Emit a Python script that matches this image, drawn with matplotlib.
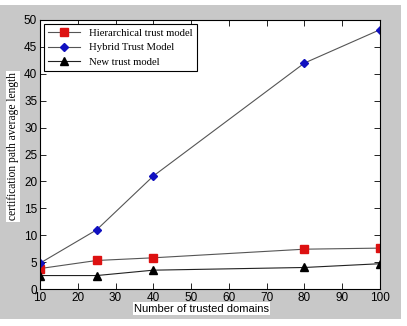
import matplotlib
matplotlib.use("Agg")
import matplotlib.pyplot as plt

x = [10, 25, 40, 80, 100]
hier = [3.8, 5.3, 5.8, 7.4, 7.6]
hybrid = [4.8, 11.0, 21.0, 42.0, 48.2]
new = [2.5, 2.5, 3.5, 4.0, 4.7]
labels = ["Hierarchical trust model", "Hybrid Trust Model", "New trust model"]

fig = plt.figure(figsize=(4.07, 3.26), dpi=100, facecolor="white")
bg = fig.add_axes([0, 0.02, 0.985, 0.965])
bg.set_facecolor("#c8c8c8")
bg.set_xticks([]); bg.set_yticks([])
for s in bg.spines.values():
    s.set_visible(False)
bg.set_zorder(-10)

ax = fig.add_axes([40/407, 1-289/326, (380-40)/407, (289-20)/326])
ax.set_facecolor("white")
ax.plot(x, hier, color="#555555", lw=0.8, marker="s", ms=5.5, mfc="#dd1111", mec="#dd1111", label=labels[0])
ax.plot(x, hybrid, color="#555555", lw=0.8, marker="D", ms=4, mfc="#1010c0", mec="#1010c0", label=labels[1])
ax.plot(x, new, color="#222222", lw=0.8, marker="^", ms=6, mfc="black", mec="black", label=labels[2])
ax.set_xlim(10, 100)
ax.set_ylim(0, 50)
ax.set_xticks(range(10, 101, 10))
ax.set_yticks(range(0, 51, 5))
ax.tick_params(direction="in", top=True, right=True, length=4, width=0.6, labelsize=8.5, pad=2)
for lab in ax.get_xticklabels() + ax.get_yticklabels():
    lab.set_family("Liberation Sans")
for s in ax.spines.values():
    s.set_linewidth(0.8)

ax.set_xlabel("Number of trusted domains", fontsize=8, family="Liberation Sans", labelpad=1,
              bbox=dict(facecolor="white", edgecolor="none", pad=1))
ax.xaxis.set_label_coords(0.475, -0.055)
ax.set_ylabel("certification path average length", fontsize=8.3, family="Liberation Serif",
              bbox=dict(facecolor="white", edgecolor="none", pad=1))
ax.yaxis.set_label_coords(-0.062, 0.53)

leg = ax.legend(loc="upper left", prop={"family": "Liberation Serif", "size": 7.7}, fancybox=False,
                edgecolor="black", framealpha=1, borderaxespad=0.35, handlelength=3, labelspacing=0.5,
                borderpad=0.4)
leg.get_frame().set_linewidth(0.8)

fig.savefig("out.png", dpi=100, facecolor="white")
